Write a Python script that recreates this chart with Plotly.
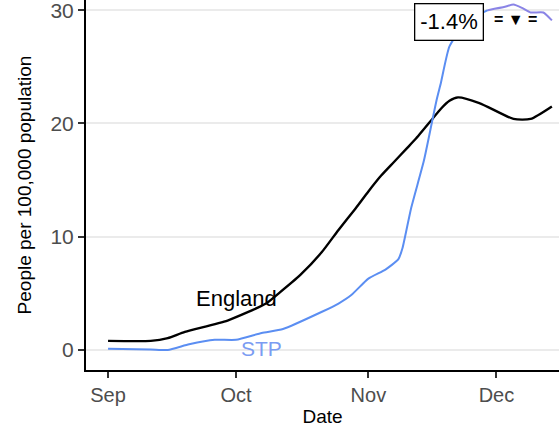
import plotly.graph_objects as go

# England series (people per 100,000)
england_dates = ["2020-09-01", "2020-09-11", "2020-09-15", "2020-09-19", "2020-09-29",
                 "2020-10-08", "2020-10-11", "2020-10-16", "2020-10-21", "2020-10-25",
                 "2020-10-29", "2020-11-01", "2020-11-04", "2020-11-07", "2020-11-10",
                 "2020-11-12", "2020-11-16", "2020-11-18", "2020-11-20", "2020-11-22",
                 "2020-11-27", "2020-12-05", "2020-12-09", "2020-12-14"]
england_vals = [0.8, 0.8, 1.05, 1.6, 2.6,
                4.1, 5.0, 6.6, 8.6, 10.6,
                12.5, 14.0, 15.4, 16.6, 17.8,
                18.6, 20.4, 21.3, 22.0, 22.3,
                21.8, 20.4, 20.4, 21.5]

# STP series
stp_dates = ["2020-09-01", "2020-09-11", "2020-09-15", "2020-09-20", "2020-09-26",
             "2020-10-01", "2020-10-07", "2020-10-12", "2020-10-21", "2020-10-25",
             "2020-10-28", "2020-11-01", "2020-11-05", "2020-11-08", "2020-11-09",
             "2020-11-11", "2020-11-14", "2020-11-16", "2020-11-17", "2020-11-18",
             "2020-11-20", "2020-11-24", "2020-11-29"]
stp_vals = [0.1, 0.05, 0.0, 0.5, 0.9,
            0.9, 1.5, 1.85, 3.35, 4.1,
            4.85, 6.3, 7.1, 8.0, 9.0,
            12.5, 16.7, 20.3, 22.1, 23.6,
            26.8, 29.0, 30.0]
stp_late_dates = ["2020-11-29", "2020-12-03", "2020-12-05", "2020-12-07", "2020-12-09",
                  "2020-12-12", "2020-12-14"]
stp_late_vals = [30.0, 30.3, 30.5, 30.2, 29.8, 29.8, 29.1]

y_ticks = [0, 10, 20, 30]
x_ticks = ["2020-09-01", "2020-10-01", "2020-11-01", "2020-12-01"]
x_ticklabels = ["Sep", "Oct", "Nov", "Dec"]

change_label = "-1.4%"
FONT = "Liberation Sans, Arial, sans-serif"

fig = go.Figure()
fig.add_trace(go.Scatter(x=england_dates, y=england_vals, mode="lines",
                         line=dict(color="black", width=2.4, shape="spline", smoothing=0.6),
                         showlegend=False))
fig.add_trace(go.Scatter(x=stp_dates, y=stp_vals, mode="lines",
                         line=dict(color="#5b8ef2", width=2, shape="spline", smoothing=0.5),
                         showlegend=False))
fig.add_trace(go.Scatter(x=stp_late_dates, y=stp_late_vals, mode="lines",
                         line=dict(color="#8a84e6", width=2, shape="spline", smoothing=0.5),
                         showlegend=False))

fig.add_annotation(x="2020-10-01", y=4.5, text="England", showarrow=False,
                   font=dict(size=22, color="black", family=FONT))
fig.add_annotation(x="2020-10-07", y=0.1, text="STP", showarrow=False,
                   font=dict(size=21, color="#7b9cf2", family=FONT))
fig.add_annotation(x="2020-12-05 14:00", y=29.2, text="<b>= ▼ =</b>", showarrow=False,
                   font=dict(size=16, color="black", family=FONT))
fig.add_annotation(x="2020-11-20", y=28.95, text=change_label, showarrow=False,
                   font=dict(size=22, color="black", family=FONT),
                   bgcolor="white", bordercolor="black", borderwidth=1.3, borderpad=5)

fig.update_layout(
    width=559, height=429,
    margin=dict(l=86, r=0, t=0, b=59),
    plot_bgcolor="white", paper_bgcolor="white",
    font=dict(family=FONT, color="black"),
    xaxis=dict(range=["2020-08-26 20:00", "2020-12-15 16:00"],
               tickvals=x_ticks, ticktext=x_ticklabels,
               showgrid=False, zeroline=False, automargin=False,
               showline=True, linecolor="black", linewidth=2,
               ticks="outside", ticklen=6, tickcolor="#333333", tickwidth=1.5,
               tickfont=dict(size=20, color="#4d4d4d"),
               ticklabeloverflow="allow",
               title=dict(text="Date", font=dict(size=19, color="black"), standoff=5)),
    yaxis=dict(range=[-1.77, 30.9], tickvals=y_ticks,
               showgrid=True, gridcolor="#ebebeb", gridwidth=1.5, zeroline=False,
               automargin=False,
               showline=True, linecolor="black", linewidth=2,
               ticks="outside", ticklen=6, tickcolor="#333333", tickwidth=1.5,
               tickfont=dict(size=21, color="#4d4d4d"),
               ticklabeloverflow="allow",
               title=dict(text="People per 100,000 population", font=dict(size=19, color="black"),
                          standoff=14)),
)

fig.write_html("out.html", config={"displayModeBar": False},
               post_script="document.body.style.margin='0';")
